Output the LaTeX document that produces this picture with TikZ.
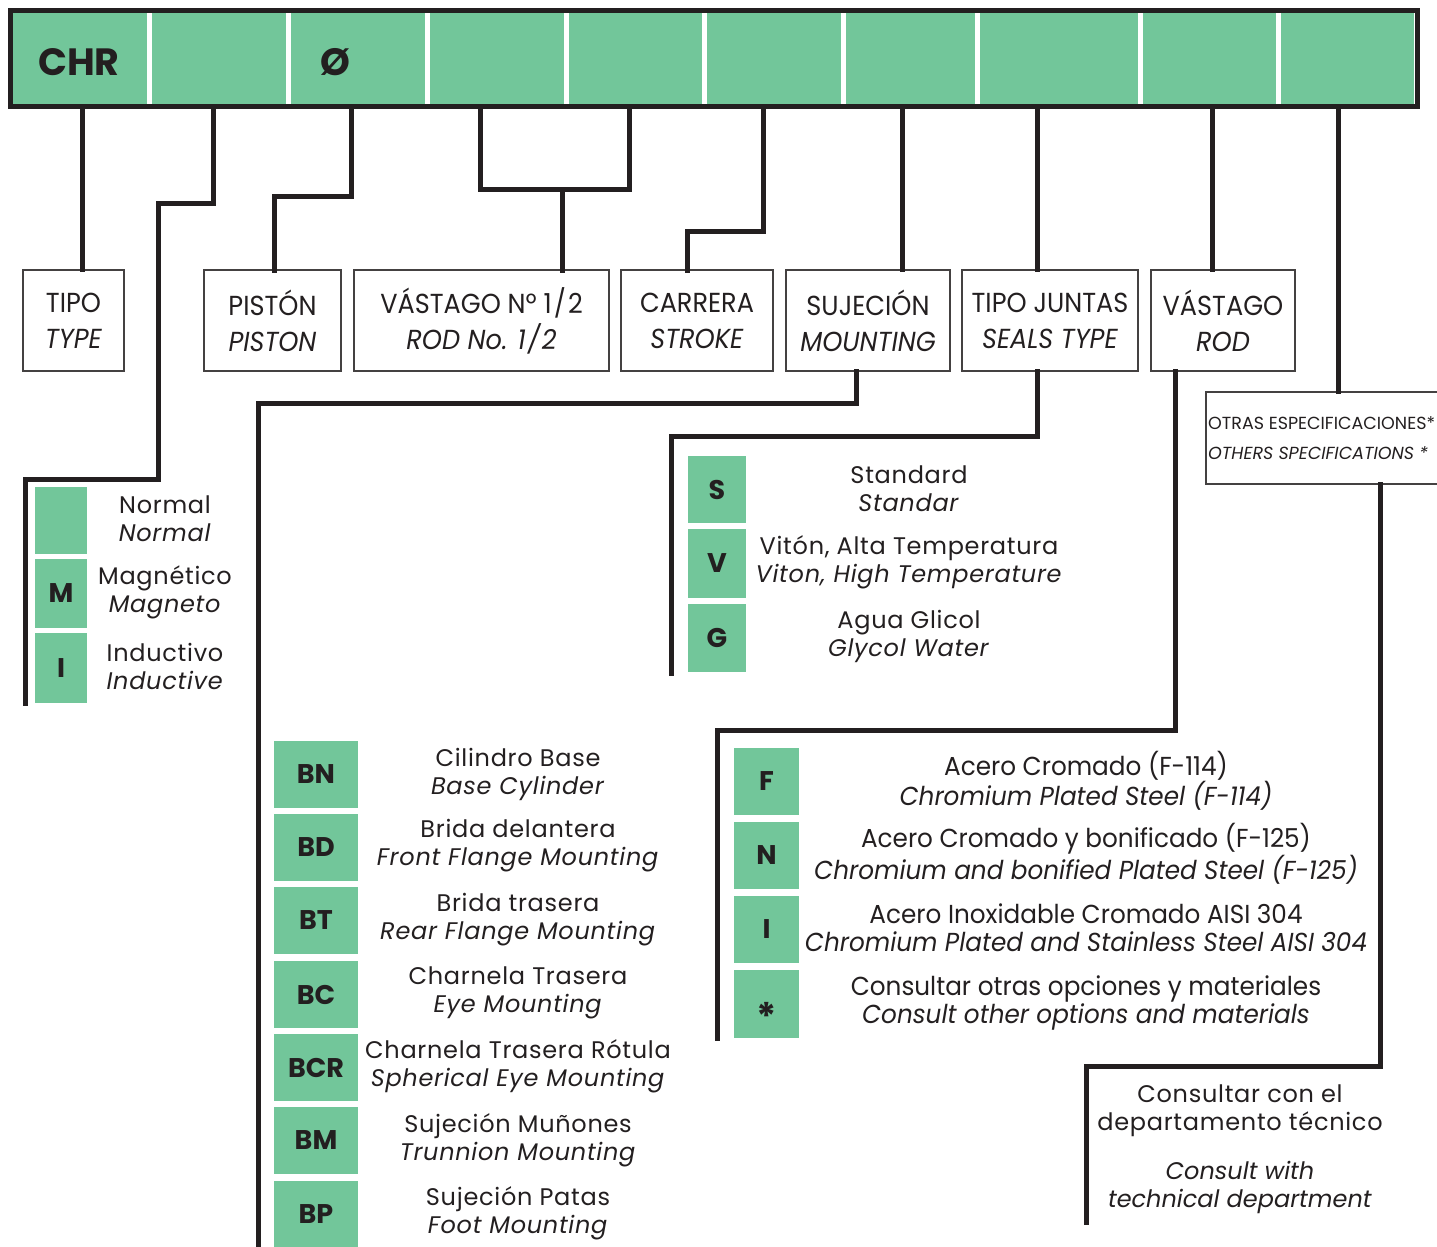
\documentclass[tikz,border=0pt]{standalone}
\usepackage{fontspec}
\setmainfont{Poppins}
\newfontfamily\popc{Poppins}[FakeStretch=0.93]
\newfontfamily\popcc{Poppins}[FakeStretch=0.95]
\newfontfamily\popw{Poppins}[LetterSpace=3]
\definecolor{grn}{RGB}{114,198,154}
\definecolor{ink}{RGB}{35,31,32}
\tikzset{
  conn/.style={draw=ink, line width=5pt, line join=miter, line cap=rect},
  cell/.style={fill=grn, inner sep=0pt, minimum height=91pt},
  hdr/.style={draw=ink!85, line width=1.3pt, fill=white, inner sep=0pt, align=center,
              font=\popc\fontsize{27.5}{36}\selectfont, text=ink},
  keybox/.style={fill=grn, inner sep=0pt, text=ink, font=\bfseries\fontsize{27}{27}\selectfont},
  desc/.style={align=center, inner sep=0pt, text=ink, font=\popw\fontsize{24}{28}\selectfont},
  descc/.style={align=center, inner sep=0pt, text=ink, font=\popcc\fontsize{26}{28}\selectfont},
}
\begin{document}
\begin{tikzpicture}[x=1pt,y=-1pt]
\useasboundingbox[fill=white] (0,0) rectangle (1437,1247);
% ---- top code bar ----
\node[cell, minimum width=134pt]   (c1)  at (80,58.5) {};
\node[cell, minimum width=134pt]   (c2)  at (219,58.5) {};
\node[cell, minimum width=134pt]   (c3)  at (358,58.5) {};
\node[cell, minimum width=133.5pt] (c4)  at (496.75,58.5) {};
\node[cell, minimum width=133.5pt] (c5)  at (635.25,58.5) {};
\node[cell, minimum width=134pt]   (c6)  at (774,58.5) {};
\node[cell, minimum width=128.5pt] (c7)  at (910.25,58.5) {};
\node[cell, minimum width=158pt]   (c8)  at (1058.5,58.5) {};
\node[cell, minimum width=133.5pt] (c9)  at (1209.25,58.5) {};
\node[cell, minimum width=133pt]   (c10) at (1347.5,58.5) {};
\draw[draw=ink, line width=5pt] (10.5,10.5) rectangle (1417,106.5);
\node[text=ink, font=\bfseries\fontsize{38}{38}\selectfont, inner sep=0pt] (chr) at (79,62) {CHR};
\node[text=ink, font=\bfseries\fontsize{38}{38}\selectfont, inner sep=0pt] (dia) at (335,62) {Ø};
% drop points
\coordinate (d1) at (82,106.5);
\coordinate (d2) at (213,106.5);
\coordinate (d3) at (351.5,106.5);
\coordinate (d4) at (480.5,106.5);
\coordinate (d5) at (629.5,106.5);
\coordinate (d6) at (763.5,106.5);
\coordinate (d7) at (902.5,106.5);
\coordinate (d8) at (1037.5,106.5);
\coordinate (d9) at (1212.5,106.5);
\coordinate (d10) at (1338,106.5);
% ---- header boxes ----
\node[hdr, minimum width=101pt, minimum height=101pt] (tipo) at (73.5,320.5) {TIPO\\\textit{TYPE}};
\node[hdr, minimum width=137pt, minimum height=101pt] (piston) at (272.5,320.5) {PISTÓN\\\textit{PISTON}};
\node[hdr, minimum width=255pt, minimum height=101pt] (vast) at (481.5,320.5) {VÁSTAGO Nº 1\kern2pt/\kern2pt2\\\textit{ROD No. 1\kern2pt/\kern2pt2}};
\node[hdr, minimum width=152pt, minimum height=101pt] (carrera) at (697,320.5) {CARRERA\\\textit{STROKE}};
\node[hdr, minimum width=164pt, minimum height=101pt] (suj) at (868,320.5) {SUJECIÓN\\\textit{MOUNTING}};
\node[hdr, minimum width=176pt, minimum height=101pt] (juntas) at (1050,320.5) {TIPO JUNTAS\\\textit{SEALS TYPE}};
\node[hdr, minimum width=144pt, minimum height=101pt] (rod) at (1223,320.5) {VÁSTAGO\\\textit{ROD}};
\node[draw=ink!85, line width=1.3pt, fill=white, inner sep=0pt, minimum width=240pt, minimum height=92pt] (otras) at (1326,438) {};
\node[anchor=west, inner sep=0pt, text=ink, align=left, font=\fontsize{17.5}{30}\selectfont] (otrastxt) at (1208,438) {OTRAS ESPECIFICACIONES*\\\textit{OTHERS SPECIFICATIONS *}};
% ---- connectors top ----
\draw[conn] (d1) -- (d1 |- tipo.north);
\coordinate (e2) at (25,703);
\draw[conn] (d2) -- (213,203) -- (158,203) -- (158,479) -- (25,479) -- (e2);
\draw[conn] (d3) -- (351.5,196) -- (274.5,196) -- (274.5,270);
\draw[conn] (d4) -- (480.5,189) -- (629.5,189) -- (d5);
\draw[conn] (562.5,189) -- (562.5,270);
\draw[conn] (d6) -- (763.5,231) -- (687,231) -- (687,270);
\draw[conn] (d7) -- (d7 |- suj.north);
\draw[conn] (d8) -- (d8 |- juntas.north);
\draw[conn] (d9) -- (d9 |- rod.north);
\draw[conn] (d10) -- (d10 |- otras.north);
% ---- connectors to option lists ----
\coordinate (e5) at (258,1250);
\draw[conn] (856,371) -- (856,403) -- (258,403) -- (e5);
\coordinate (e6) at (671,673);
\draw[conn] (1037.5,371) -- (1037.5,436) -- (671,436) -- (e6);
\coordinate (e7) at (717,1038);
\draw[conn] (1175,371) -- (1175,730) -- (717,730) -- (e7);
\coordinate (e8) at (1086,1222);
\draw[conn] (1380,484) -- (1380,1066) -- (1086,1066) -- (e8);
% ---- piston type ----
\node[keybox, minimum width=52pt, minimum height=67pt] (kn) at (61,520.5) {};
\node[keybox, minimum width=52pt, minimum height=69pt] (km) at (61,593.5) {M};
\node[keybox, minimum width=52pt, minimum height=70pt] (ki) at (61,668) {I};
\node[desc] (tn) at (165,519) {Normal\\\textit{Normal}};
\node[desc] (tm) at (165,592) {Magnético\\\textit{Magneto}};
\node[desc] (ti) at (165,666) {Inductivo\\\textit{Inductive}};
% ---- seals ----
\node[keybox, minimum width=58pt, minimum height=67pt] (ks) at (717,489.5) {S};
\node[keybox, minimum width=58pt, minimum height=69pt] (kv) at (717,563.5) {V};
\node[keybox, minimum width=58pt, minimum height=68pt] (kg) at (717,638) {G};
\node[desc] (ts) at (909,489) {Standard\\\textit{Standar}};
\node[desc] (tv) at (909,562) {Vitón, Alta Temperatura\\\textit{Viton, High Temperature}};
\node[desc] (tg) at (909,636) {Agua Glicol\\\textit{Glycol Water}};
% ---- mounting ----
\node[keybox, minimum width=84pt, minimum height=67pt] (kbn) at (316,774.5) {BN};
\node[keybox, minimum width=84pt, minimum height=67pt] (kbd) at (316,847.5) {BD};
\node[keybox, minimum width=84pt, minimum height=67pt] (kbt) at (316,920.5) {BT};
\node[keybox, minimum width=84pt, minimum height=67pt] (kbc) at (316,994.5) {BC};
\node[keybox, minimum width=84pt, minimum height=67pt] (kbcr) at (316,1067.5) {BCR};
\node[keybox, minimum width=84pt, minimum height=67pt] (kbm) at (316,1140.5) {BM};
\node[keybox, minimum width=84pt, minimum height=67pt] (kbp) at (316,1214) {BP};
\node[desc] (tbn) at (518,774) {Cilindro Base\\\textit{Base Cylinder}};
\node[desc] (tbd) at (518,846) {Brida delantera\\\textit{Front Flange Mounting}};
\node[desc] (tbt) at (518,920) {Brida trasera\\\textit{Rear Flange Mounting}};
\node[desc] (tbc) at (518,993) {Charnela Trasera\\\textit{Eye Mounting}};
\node[desc] (tbcr) at (518,1066) {Charnela Trasera Rótula\\\textit{Spherical Eye Mounting}};
\node[desc] (tbm) at (518,1140) {Sujeción Muñones\\\textit{Trunnion Mounting}};
\node[desc] (tbp) at (518,1213) {Sujeción Patas\\\textit{Foot Mounting}};
% ---- rod material ----
\node[keybox, minimum width=65pt, minimum height=67pt] (kf) at (766.5,781.5) {F};
\node[keybox, minimum width=65pt, minimum height=67pt] (kn2) at (766.5,855.5) {N};
\node[keybox, minimum width=65pt, minimum height=67pt] (ki2) at (766.5,929.5) {I};
\node[keybox, minimum width=65pt, minimum height=68pt] (kx) at (766.5,1004) {\smash{\raisebox{-26pt}{\fontsize{38}{38}\selectfont *}}};
\node[descc] (tf) at (1086,781) {Acero Cromado (F-114)\\\textit{Chromium Plated Steel (F-114)}};
\node[descc] (tn2) at (1086,854) {Acero Cromado y bonificado (F-125)\\\textit{Chromium and bonified Plated Steel (F-125)}};
\node[descc] (ti2) at (1086,928) {Acero Inoxidable Cromado AISI 304\\\textit{Chromium Plated and Stainless Steel AISI 304}};
\node[descc] (tx) at (1086,1003) {Consultar otras opciones y materiales\\\textit{Consult other options and materials}};
% ---- other specs ----
\node[desc] (tc1) at (1240,1111) {Consultar con el\\departamento técnico};
\node[align=center, inner sep=0pt, text=ink, font=\fontsize{24}{28}\selectfont] (tc2) at (1240,1187) {\textit{Consult with}\\\textit{technical department}};
\end{tikzpicture}
\end{document}
